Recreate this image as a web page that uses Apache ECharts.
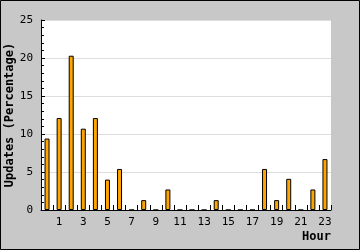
<!DOCTYPE html>
<html>
<head>
<meta charset="utf-8">
<script src="https://cdn.jsdelivr.net/npm/echarts@6/dist/echarts.min.js"></script>
<style>
html,body{margin:0;padding:0;background:#c8c8c8;}
#c{width:360px;height:250px;}
</style>
</head>
<body>
<div id="c"></div>
<script>
const hours = ['0','1','2','3','4','5','6','7','8','9','10','11','12','13','14','15','16','17','18','19','20','21','22','23'];
const updates = [9.4, 12.1, 20.3, 10.7, 12.1, 4.0, 5.4, 0, 1.3, 0, 2.7, 0, 0, 0, 1.3, 0, 0, 0, 5.4, 1.3, 4.1, 0, 2.7, 6.7];
const yTicks = [0, 5, 10, 15, 20, 25];

const font = '"DejaVu Sans Mono", monospace';
const chart = echarts.init(document.getElementById('c'), null, {renderer: 'canvas'});
chart.setOption({
  backgroundColor: '#c8c8c8',
  animation: false,
  grid: {left: 41, top: 20, right: 29, bottom: 40, containLabel: false, outerBoundsMode: 'none', show: true, backgroundColor: '#ffffff', borderWidth: 0},
  xAxis: {
    type: 'category',
    data: hours,
    boundaryGap: true,
    name: 'Hour',
    nameLocation: 'end',
    nameGap: 0,
    nameMoveOverlap: false,
    nameTextStyle: {fontFamily: font, fontWeight: 'bold', fontSize: 12, color: '#000', align: 'right', verticalAlign: 'top', padding: [21, 0, 0, 0]},
    axisLine: {lineStyle: {color: '#000', width: 1}},
    axisTick: {show: true, inside: true, length: 5, interval: 0, lineStyle: {color: '#000'}},
    axisLabel: {interval: (i) => i % 2 === 1, fontFamily: font, fontSize: 11, color: '#000', margin: 7},
    splitLine: {show: false}
  },
  yAxis: {
    type: 'value',
    min: yTicks[0],
    max: yTicks[yTicks.length - 1],
    interval: 5,
    name: 'Updates (Percentage)',
    nameLocation: 'middle',
    nameGap: 25,
    nameMoveOverlap: false,
    nameTextStyle: {fontFamily: font, fontWeight: 'bold', fontSize: 12, color: '#000'},
    axisLine: {show: true, lineStyle: {color: '#000', width: 1}},
    axisTick: {show: true, inside: true, length: 4, lineStyle: {color: '#000'}},
    minorTick: {show: true, splitNumber: 5, length: 3, lineStyle: {color: '#000'}},
    axisLabel: {fontFamily: font, fontSize: 11, color: '#000', margin: 8},
    splitLine: {show: true, lineStyle: {color: '#dddddd', width: 1}}
  },
  series: [{
    type: 'bar',
    data: updates,
    barWidth: 5,
    itemStyle: {color: '#ffa500', borderColor: '#000', borderWidth: 1}
  }],
  graphic: [{
    type: 'rect',
    shape: {x: 0.5, y: 0.5, width: 359, height: 249},
    style: {fill: 'none', stroke: '#000', lineWidth: 1},
    silent: true,
    z: 100
  }]
});
</script>
</body>
</html>
